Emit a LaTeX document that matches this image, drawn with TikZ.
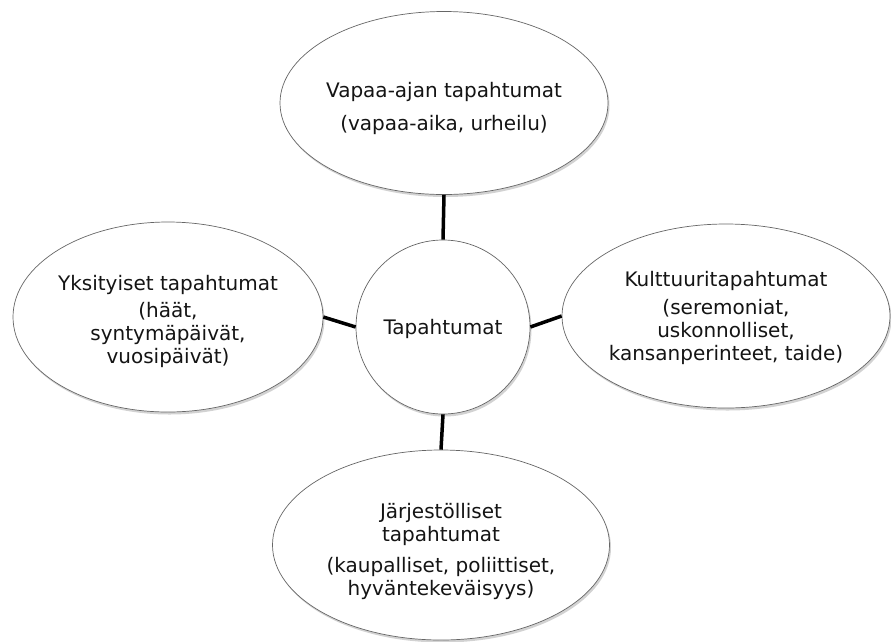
\documentclass[tikz,border=0pt]{standalone}
\usepackage{fontspec}
\setmainfont{DejaVu Sans}
\usetikzlibrary{shapes.geometric,shadows}
\begin{document}
\begin{tikzpicture}[x=1pt,y=-1pt,
  bubble/.style={ellipse,draw=black!60,line width=0.7pt,fill=white,inner sep=0pt,
    drop shadow={opacity=0.35,shadow xshift=1.5pt,shadow yshift=-2.5pt}},
  txt/.style={align=center,text=black!92,font=\fontsize{20}{23}\selectfont,inner sep=0pt},
  link/.style={line width=3.5pt,black}]
\useasboundingbox[fill=white] (0,0) rectangle (891,641);
\node[bubble,minimum width=328pt,minimum height=183pt] (top) at (444,103) {};
\node[bubble,minimum width=310pt,minimum height=190pt] (left) at (168,317) {};
\node[bubble,minimum width=328pt,minimum height=184pt] (right) at (726,316) {};
\node[bubble,minimum width=337pt,minimum height=190pt] (bottom) at (441,545) {};
\node[bubble,circle,minimum size=174pt] (c) at (443,327) {};
\node[txt] (topT) at ([yshift=-5pt]top.center)
  {Vapaa-ajan tapahtumat\\[10pt](vapaa-aika, urheilu)};
\node[txt] (leftT) at ([yshift=-4pt]left.center)
  {Yksityiset tapahtumat\\[4pt](häät,\\syntymäpäivät,\\vuosipäivät)};
\node[txt] (rightT) at ([yshift=-2pt]right.center)
  {Kulttuuritapahtumat\\[5pt](seremoniat,\\uskonnolliset,\\kansanperinteet, taide)};
\node[txt] (bottomT) at ([yshift=-6pt]bottom.center)
  {Järjestölliset\\tapahtumat\\[8pt](kaupalliset, poliittiset,\\hyväntekeväisyys)};
\node[txt] (cT) at ([yshift=-2pt]c.center) {Tapahtumat};
\draw[link] (top.south) -- (c.north);
\draw[link] (c.south) -- (bottom.north);
\draw[link] (left.east) -- (c.west);
\draw[link] (c.east) -- (right.west);
\end{tikzpicture}
\end{document}
